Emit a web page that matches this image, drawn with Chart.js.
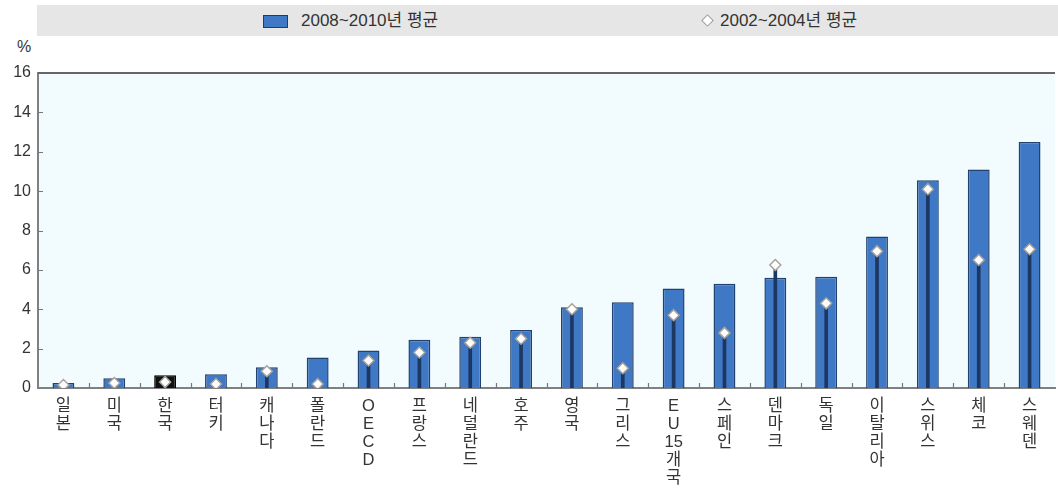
<!DOCTYPE html>
<html lang="ko">
<head>
<meta charset="utf-8">
<script src="https://cdn.jsdelivr.net/npm/chart.js@4/dist/chart.umd.min.js"></script>
<style>
  html, body { margin: 0; padding: 0; background: #fff; overflow: hidden; }
  body { width: 1058px; height: 490px; position: relative;
         font-family: "Liberation Sans", "Noto Sans CJK KR", sans-serif; color: #333; }
  #wrap { position: absolute; left: 0; top: 0; width: 1062px; height: 490px; }
  .legend { position: absolute; left: 37px; top: 5px; width: 1025px; height: 31px; background: #e6e6e6; }
  .legend .item { position: absolute; top: 0; height: 31px; line-height: 31px; font-size: 17px; color: #333; }
  .legend .box { position: absolute; top: 10px; width: 23px; height: 11px; background: #3f78c4; border: 1px solid #1f3d6b; }
  .legend .dia { position: absolute; top: 11px; width: 7px; height: 7px; background: #fff; border: 1.5px solid #999; transform: rotate(45deg); }
  .unit { position: absolute; left: 17px; top: 38px; font-size: 16px; color: #333; }
</style>
</head>
<body>
<div class="legend">
  <span class="box" style="left:226px"></span>
  <span class="item" style="left:264px">2008~2010년 평균</span>
  <span class="dia" style="left:666px"></span>
  <span class="item" style="left:683px">2002~2004년 평균</span>
</div>
<div class="unit">%</div>
<div id="wrap"><canvas id="chart" width="1062" height="490"></canvas></div>

<script>
// 국가별 비율 (%)
const categories = ['일본', '미국', '한국', '터키', '캐나다', '폴란드', 'OECD', '프랑스', '네덜란드', '호주',
  '영국', '그리스', 'EU15개국', '스페인', '덴마크', '독일', '이탈리아', '스위스', '체코', '스웨덴'];
const avg2008 = [0.25, 0.5, 0.65, 0.7, 1.05, 1.55, 1.9, 2.45, 2.6, 2.95,
  4.1, 4.35, 5.05, 5.3, 5.6, 5.65, 7.7, 10.55, 11.1, 12.5];
const avg2002 = [0.15, 0.25, 0.3, 0.2, 0.85, 0.2, 1.4, 1.8, 2.3, 2.5,
  4.0, 1.0, 3.7, 2.8, 6.25, 4.3, 6.95, 10.1, 6.5, 7.05];
const yTicks = [0, 2, 4, 6, 8, 10, 12, 14, 16];
const highlight = '한국';

const FONT = '"Liberation Sans", "Noto Sans CJK KR", sans-serif';

// 세로쓰기 라벨: 글자 하나씩, 숫자는 묶어서
const verticalLabels = categories.map(c => c.match(/\d+|./g));

const plotBg = {
  id: 'plotBg',
  beforeDraw(chart) {
    const { ctx, chartArea: a } = chart;
    ctx.save();
    ctx.fillStyle = '#f2fbfd';
    ctx.fillRect(a.left, a.top, a.right - a.left, a.bottom - a.top);
    ctx.restore();
  }
};

// 축 안쪽으로 향하는 짧은 눈금
const innerTicks = {
  id: 'innerTicks',
  afterDraw(chart) {
    const { ctx, chartArea: a, scales: { x, y } } = chart;
    ctx.save();
    ctx.strokeStyle = '#777';
    ctx.lineWidth = 1.2;
    ctx.beginPath();
    for (let i = 1; i < categories.length; i++) {
      const px = Math.round((x.getPixelForTick(i - 1) + x.getPixelForTick(i)) / 2) + 0.5;
      ctx.moveTo(px, a.bottom);
      ctx.lineTo(px, a.bottom - 5);
    }
    yTicks.slice(1, -1).forEach(v => {
      const py = Math.round(y.getPixelForValue(v)) + 0.5;
      ctx.moveTo(a.left, py);
      ctx.lineTo(a.left + 5, py);
    });
    ctx.stroke();
    // 상단 테두리
    ctx.strokeStyle = '#666';
    ctx.lineWidth = 2;
    ctx.beginPath();
    ctx.moveTo(a.left, a.top);
    ctx.lineTo(a.right, a.top);
    ctx.stroke();
    ctx.restore();
  }
};

new Chart(document.getElementById('chart'), {
  data: {
    labels: verticalLabels,
    datasets: [
      {
        type: 'line',
        label: '2002~2004년 평균',
        data: avg2002,
        showLine: false,
        pointStyle: 'rectRot',
        pointRadius: 5.5,
        pointBackgroundColor: '#ffffff',
        pointBorderColor: '#a8a29a',
        pointBorderWidth: 1.5,
        order: 0
      },
      {
        type: 'bar',
        label: 'stem',
        data: avg2002.map(v => [0, v]),
        backgroundColor: '#1d3763',
        barThickness: 3,
        grouped: false,
        order: 1
      },
      {
        type: 'bar',
        label: '2008~2010년 평균',
        data: avg2008,
        backgroundColor: categories.map(c => c === highlight ? '#111111' : '#3f78c4'),
        borderColor: categories.map(c => c === highlight ? '#000000' : '#22416f'),
        borderWidth: 1.5,
        barPercentage: 0.43,
        categoryPercentage: 1,
        grouped: false,
        order: 2
      }
    ]
  },
  options: {
    responsive: false,
    animation: false,
    events: [],
    layout: { padding: { top: 73, right: 0, left: 0, bottom: 0 } },
    plugins: { legend: { display: false }, tooltip: { enabled: false } },
    scales: {
      x: {
        offset: true,
        grid: { display: false, drawTicks: false },
        border: { display: true, color: '#808080', width: 2 },
        ticks: {
          color: '#333',
          padding: 9,
          maxRotation: 0,
          autoSkip: false,
          font: { family: FONT, size: 16.5, lineHeight: 1.1 }
        },
        afterFit(scale) { scale.height = 102; }
      },
      y: {
        min: 0,
        max: 16,
        afterBuildTicks(scale) { scale.ticks = yTicks.map(v => ({ value: v })); },
        grid: { display: false, drawTicks: false },
        border: { display: true, color: '#808080', width: 2 },
        ticks: {
          color: '#333',
          padding: 7,
          font: { family: FONT, size: 16 }
        },
        afterFit(scale) { scale.width = 38; }
      }
    }
  },
  plugins: [plotBg, innerTicks]
});
</script>
</body>
</html>
